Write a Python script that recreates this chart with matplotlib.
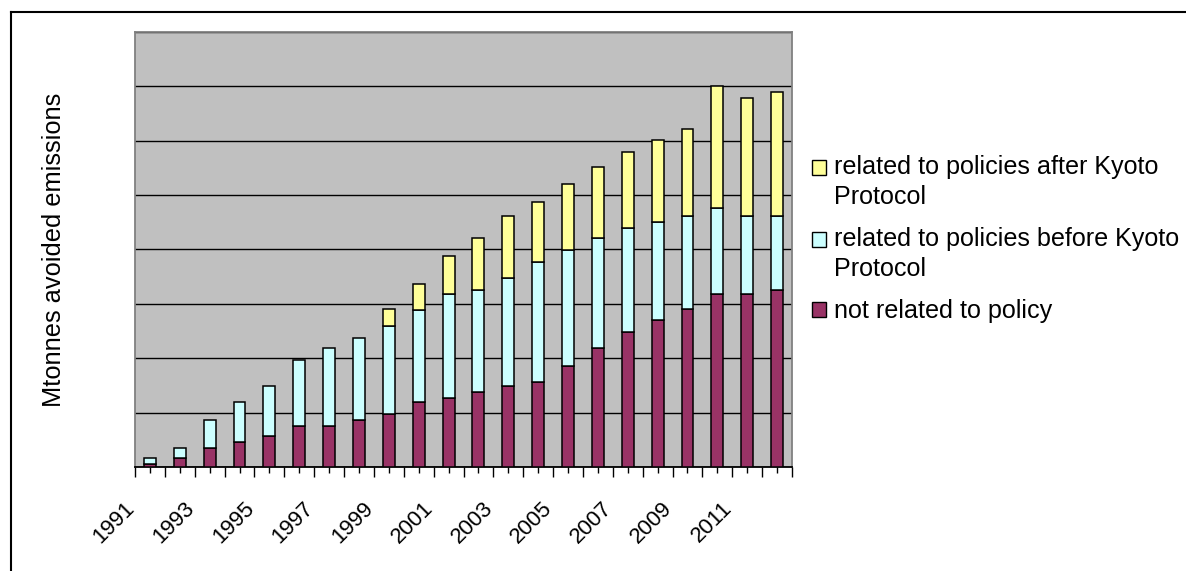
import matplotlib.pyplot as plt
import matplotlib.transforms as mtransforms
from matplotlib.patches import Rectangle
from matplotlib.legend_handler import HandlerPatch
from matplotlib.lines import Line2D
from matplotlib.ticker import MultipleLocator
import numpy as np

plt.rcParams['font.family'] = ['Liberation Sans', 'DejaVu Sans']

# años y componentes apilados (Mt evitadas)
years = list(range(1991, 2013))
not_policy = [3, 8, 17.5, 23, 28.5, 37.7, 37.7, 43, 48.5, 60, 63.5, 69, 74.5, 78,
              93, 109.5, 124, 135.5, 145, 159.5, 159.5, 163]
before_kyoto = [5.3, 9.5, 26, 37, 46, 60.3, 71.8, 75.7, 81.5, 84, 95.5, 93.5, 99.5,
                110.5, 107, 101, 96, 90, 85.5, 79, 71, 67.5]
after_kyoto = [0, 0, 0, 0, 0, 0, 0, 0, 15, 24.5, 35, 48, 57, 55.5, 60.5, 65, 70,
               75.5, 80, 112, 109, 114.5]

labels = ['related to policies after Kyoto\nProtocol',
          'related to policies before Kyoto\nProtocol',
          'not related to policy']
colores = ['#FFFF99', '#CCFFFF', '#993366']

fig = plt.figure(figsize=(11.86, 5.71), dpi=100)
ax = fig.add_axes([135/1186, 1 - 467/571, 657/1186, 435/571])
ax.set_facecolor('#C0C0C0')

x = np.arange(len(years))
w = 0.4
b1 = ax.bar(x, not_policy, w, color=colores[2], edgecolor='black', lw=1.1, zorder=3)
b2 = ax.bar(x, before_kyoto, w, bottom=not_policy, color=colores[1],
            edgecolor='black', lw=1.1, zorder=3)
base = np.array(not_policy) + np.array(before_kyoto)
after = np.array(after_kyoto)
b3 = ax.bar(x[after > 0], after[after > 0], w, bottom=base[after > 0], color=colores[0],
            edgecolor='black', lw=1.1, zorder=3)

ax.set_xlim(-0.5, len(years) - 0.5)
ax.set_ylim(0, 400)
ax.yaxis.set_major_locator(MultipleLocator(50))
ax.grid(axis='y', color='black', lw=1.0, zorder=1)
ax.tick_params(axis='y', left=False, labelleft=False)

# ticks: largos entre categorias, cortos en el centro
ax.set_xticks(x)
ax.set_xticklabels([str(y) if (y - 1991) % 2 == 0 else '' for y in years],
                   rotation=45, ha='right', va='top', rotation_mode='anchor', fontsize=16)
ax.set_xticks(np.arange(-0.5, len(years)), minor=True)
ax.tick_params(axis='x', which='major', length=4, width=1.0, pad=18, color='black')
ax.tick_params(axis='x', which='minor', length=7, width=1.0, color='black')
desp = mtransforms.ScaledTranslation(-0.26, 0, fig.dpi_scale_trans)
for t in ax.get_xticklabels():
    t.set_transform(t.get_transform() + desp)

for s in ['left', 'top', 'right']:
    ax.spines[s].set_color('#808080')
    ax.spines[s].set_linewidth(1.3)
ax.spines['bottom'].set_color('black')
ax.spines['bottom'].set_linewidth(1.3)

ax.set_ylabel('Mtonnes avoided emissions', fontsize=18.3, labelpad=50)


# el cuadro de la leyenda va alineado con la primera linea del texto
def make_handler(shift):
    def f(legend, orig_handle, xdescent, ydescent, width, height, fontsize):
        return Rectangle((-xdescent, -ydescent + shift), width, height)
    return HandlerPatch(patch_func=f)


handles = [Rectangle((0, 0), 1, 1, facecolor=c, edgecolor='black', lw=1.0) for c in colores]
hmap = {handles[0]: make_handler(11.0), handles[1]: make_handler(11.0),
        handles[2]: make_handler(0)}
leg = fig.legend(handles, labels, handler_map=hmap, loc='upper left',
                 bbox_to_anchor=(812/1186, 1 - 155/571), frameon=False, fontsize=18.1,
                 handlelength=0.57, handleheight=0.5, handletextpad=0.3,
                 labelspacing=0.72, borderpad=0, borderaxespad=0)
for t in leg.get_texts():
    t.set_linespacing(1.32)

# marco exterior
fig.add_artist(Line2D([11/1186, 11/1186], [0, 1 - 12/571], color='black', lw=1.5,
                      transform=fig.transFigure))
fig.add_artist(Line2D([11/1186, 1], [1 - 12/571, 1 - 12/571], color='black', lw=1.5,
                      transform=fig.transFigure))

plt.savefig('out.png', dpi=100)
